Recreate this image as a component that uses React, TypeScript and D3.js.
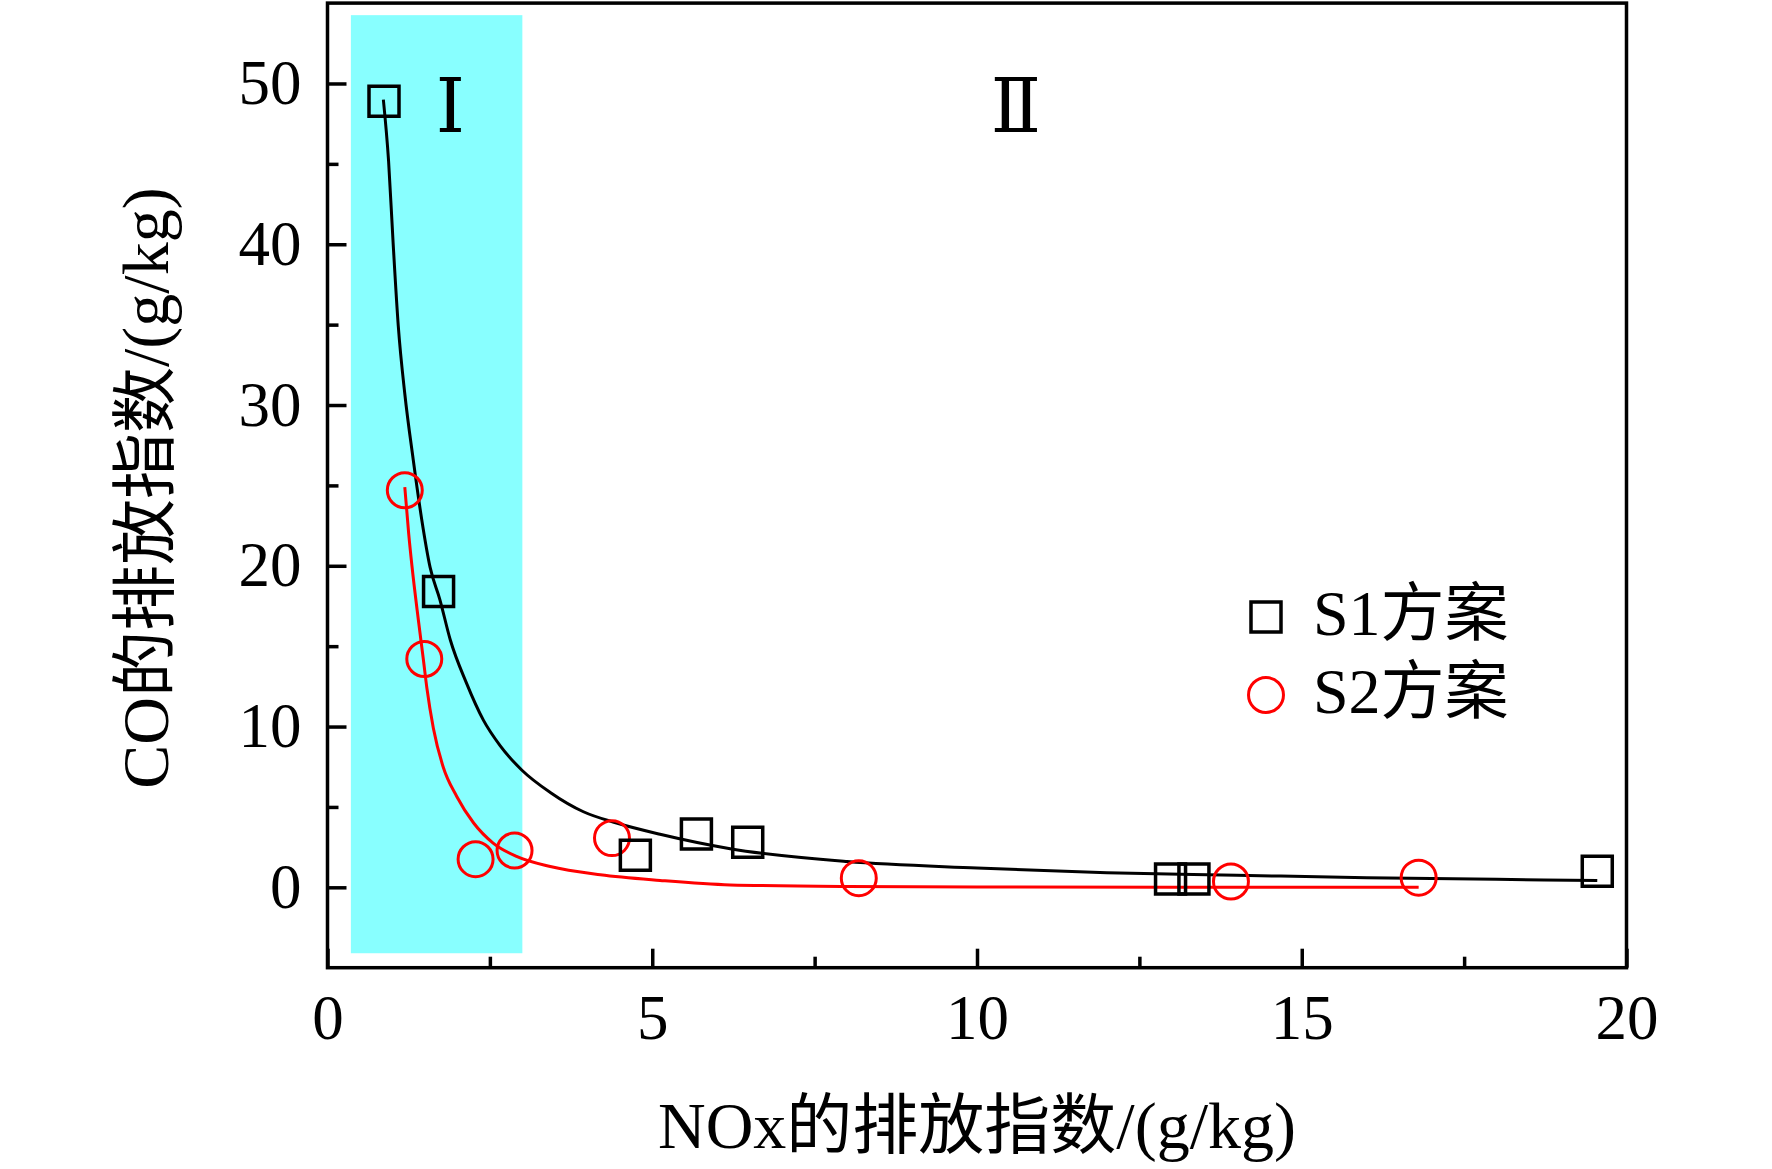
import React, { useEffect, useRef } from 'react';
import * as d3 from 'd3';

const WIDTH = 1772;
const HEIGHT = 1169;
const FONT = '"Liberation Serif", "Times New Roman", "Noto Sans CJK SC", serif';
const ROMAN_FONT = '"Liberation Serif", "DejaVu Serif", "Noto Sans CJK SC", serif';

// measured points (NOx index, CO index)
const s1X = [0.87, 1.71, 4.74, 5.68, 6.47, 12.98, 13.34, 19.55];
const s1Y = [48.9, 18.4, 1.99, 3.32, 2.8, 0.51, 0.51, 1.0];
const s2X = [1.19, 1.49, 2.28, 2.88, 4.38, 8.18, 13.91, 16.8];
const s2Y = [24.7, 14.2, 1.75, 2.29, 3.06, 0.57, 0.36, 0.6];

// fitted curves
const fit1X = [0.86, 0.94, 1.01, 1.09, 1.19, 1.32, 1.45, 1.58, 1.73, 1.89, 2.14, 2.4, 2.66, 2.99, 3.43, 3.94, 4.45, 5.12, 6.2, 8.0, 10.0, 12.0, 14.0, 16.0, 18.0, 19.55];
const fit1Y = [49.0, 45.2, 40.1, 34.9, 30.7, 26.6, 22.9, 19.9, 17.9, 15.4, 12.7, 10.4, 8.8, 7.3, 5.9, 4.7, 4.0, 3.3, 2.4, 1.6, 1.2, 0.9, 0.75, 0.6, 0.5, 0.42];
const fit2X = [1.19, 1.25, 1.3, 1.4, 1.475, 1.53, 1.63, 1.78, 1.99, 2.25, 2.55, 2.91, 3.43, 4.2, 5.12, 6.2, 8.0, 10.0, 13.0, 16.8];
const fit2Y = [24.9, 22.0, 20.0, 16.6, 14.2, 12.4, 9.9, 7.5, 5.65, 4.0, 2.75, 1.92, 1.29, 0.78, 0.43, 0.15, 0.05, 0.02, 0.01, 0.0];

const xTicks = [0, 5, 10, 15, 20];
const xMinor = [2.5, 7.5, 12.5, 17.5];
const yTicks = [0, 10, 20, 30, 40, 50];
const yMinor = [5, 15, 25, 35, 45];

// shaded zone I
const bandX = [0.36, 3.0];
const bandY = [-4.1, 54.25];
const zoneLabels = ['Ⅰ', 'Ⅱ'];
const zoneX = [1.89, 10.6];
const zoneY = 47;

const legendLabels = ['S1方案', 'S2方案'];
const seriesColors = ['#000000', '#ff0000'];

const frame = { left: 327.5, right: 1626.5, top: 3.1, bottom: 967.7 };

const App: React.FC = () => {
  const svgRef = useRef<SVGSVGElement | null>(null);

  useEffect(() => {
    if (!svgRef.current) return;
    const svg = d3.select(svgRef.current);
    svg.selectAll('*').remove();

    const x = d3.scaleLinear().domain([0, 20]).range([frame.left, frame.right]);
    const y = d3.scaleLinear().domain([-5, 55]).range([frame.bottom, frame.top]);

    // zone I band
    svg
      .append('rect')
      .attr('x', x(bandX[0]))
      .attr('y', y(bandY[1]))
      .attr('width', x(bandX[1]) - x(bandX[0]))
      .attr('height', y(bandY[0]) - y(bandY[1]))
      .attr('fill', '#88ffff');

    // zone labels
    svg
      .selectAll('text.zone')
      .data(zoneLabels)
      .join('text')
      .attr('class', 'zone')
      .attr('x', (_, i) => x(zoneX[i]))
      .attr('y', y(zoneY))
      .attr('text-anchor', 'middle')
      .attr('font-family', ROMAN_FONT)
      .attr('font-size', 74)
      .text((d) => d);

    // axes
    const xAxis = svg
      .append('g')
      .attr('transform', `translate(0,${frame.bottom})`)
      .call(d3.axisBottom(x).tickValues(xTicks).tickSize(-19).tickSizeOuter(0).tickPadding(27).tickFormat(d3.format('d')));
    const xAxisMinor = svg
      .append('g')
      .attr('transform', `translate(0,${frame.bottom})`)
      .call(d3.axisBottom(x).tickValues(xMinor).tickSize(-11).tickSizeOuter(0).tickFormat(() => ''));
    const yAxis = svg
      .append('g')
      .attr('transform', `translate(${frame.left},0)`)
      .call(d3.axisLeft(y).tickValues(yTicks).tickSize(-19).tickSizeOuter(0).tickPadding(26).tickFormat(d3.format('d')));
    const yAxisMinor = svg
      .append('g')
      .attr('transform', `translate(${frame.left},0)`)
      .call(d3.axisLeft(y).tickValues(yMinor).tickSize(-11).tickSizeOuter(0).tickFormat(() => ''));

    [xAxis, xAxisMinor, yAxis, yAxisMinor].forEach((g) => {
      g.select('.domain').remove();
      g.selectAll('line').attr('stroke', '#000').attr('stroke-width', 3.5);
      g.selectAll('text').attr('font-family', FONT).attr('font-size', 63).attr('fill', '#000');
    });

    // frame
    svg
      .append('rect')
      .attr('x', frame.left)
      .attr('y', frame.top)
      .attr('width', frame.right - frame.left)
      .attr('height', frame.bottom - frame.top)
      .attr('fill', 'none')
      .attr('stroke', '#000')
      .attr('stroke-width', 3.5);

    // fitted curves
    const curve = (xs: number[], ys: number[]) =>
      d3
        .line<number>()
        .x((i) => x(xs[i]))
        .y((i) => y(ys[i]))
        .curve(d3.curveMonotoneX)(d3.range(xs.length));

    svg
      .append('path')
      .attr('d', curve(fit2X, fit2Y))
      .attr('fill', 'none')
      .attr('stroke', seriesColors[1])
      .attr('stroke-width', 3);
    svg
      .append('path')
      .attr('d', curve(fit1X, fit1Y))
      .attr('fill', 'none')
      .attr('stroke', seriesColors[0])
      .attr('stroke-width', 3);

    // markers
    const square = d3.symbol().type(d3.symbolSquare).size(900);
    const circle = d3.symbol().type(d3.symbolCircle).size(960);

    svg
      .selectAll('path.s2')
      .data(d3.range(s2X.length))
      .join('path')
      .attr('class', 's2')
      .attr('transform', (i) => `translate(${x(s2X[i])},${y(s2Y[i])})`)
      .attr('d', circle())
      .attr('fill', 'none')
      .attr('stroke', seriesColors[1])
      .attr('stroke-width', 3);
    svg
      .selectAll('path.s1')
      .data(d3.range(s1X.length))
      .join('path')
      .attr('class', 's1')
      .attr('transform', (i) => `translate(${x(s1X[i])},${y(s1Y[i])})`)
      .attr('d', square())
      .attr('fill', 'none')
      .attr('stroke', seriesColors[0])
      .attr('stroke-width', 3.5);

    // legend
    const legend = svg.append('g').attr('transform', 'translate(1266,617)');
    legendLabels.forEach((label, i) => {
      const row = legend.append('g').attr('transform', `translate(0,${i * 78})`);
      row
        .append('path')
        .attr('d', i === 0 ? square() : circle())
        .attr('fill', 'none')
        .attr('stroke', seriesColors[i])
        .attr('stroke-width', i === 0 ? 3.5 : 3);
      row
        .append('text')
        .attr('x', 47)
        .attr('y', 18)
        .attr('font-family', FONT)
        .attr('font-size', 64)
        .text(label);
    });

    // axis titles
    svg
      .append('text')
      .attr('x', (frame.left + frame.right) / 2)
      .attr('y', 1148)
      .attr('text-anchor', 'middle')
      .attr('font-family', FONT)
      .attr('font-size', 66)
      .text('NOx的排放指数/(g/kg)');
    svg
      .append('text')
      .attr('transform', 'translate(168,488) rotate(-90)')
      .attr('text-anchor', 'middle')
      .attr('font-family', FONT)
      .attr('font-size', 66)
      .text('CO的排放指数/(g/kg)');
  }, []);

  return (
    <div style={{ position: 'absolute', left: 0, top: 0 }}>
      <svg ref={svgRef} width={WIDTH} height={HEIGHT} style={{ display: 'block', background: '#fff' }} />
    </div>
  );
};

export default App;
